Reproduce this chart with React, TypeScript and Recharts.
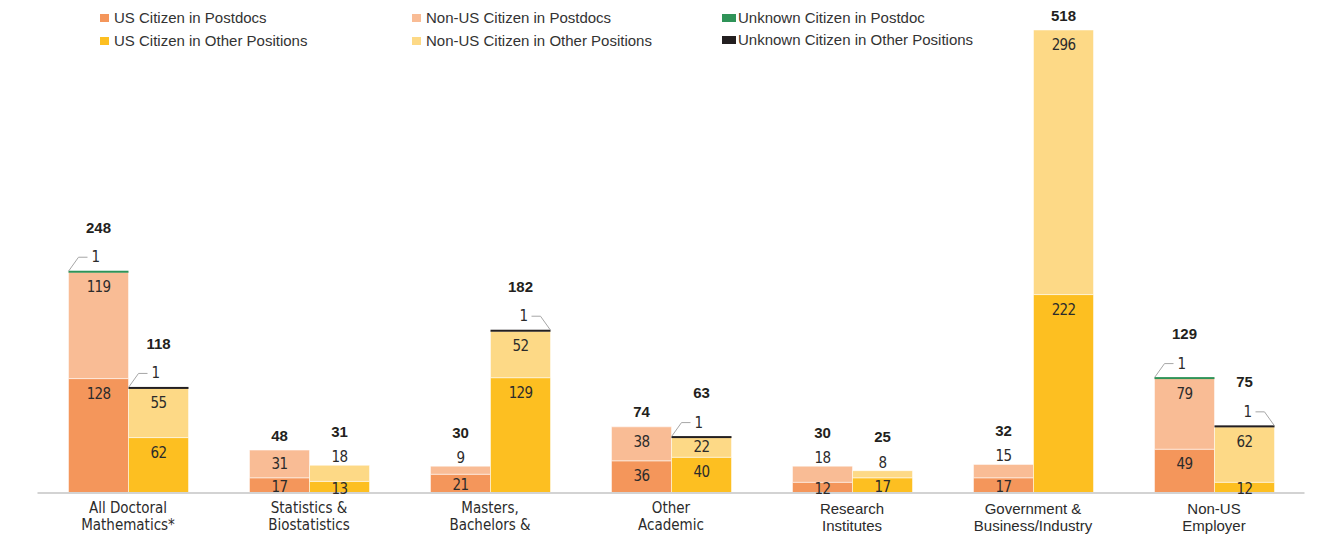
import React from 'react';
import { BarChart, Bar, XAxis, YAxis, LabelList } from 'recharts';

// ---------- data ----------
const categories = [
  'All Doctoral\nMathematics*',
  'Statistics &\nBiostatistics',
  'Masters,\nBachelors &',
  'Other\nAcademic',
  'Research\nInstitutes',
  'Government &\nBusiness/Industry',
  'Non-US\nEmployer',
];
const usPostdoc = [128, 17, 21, 36, 12, 17, 49];
const nonUsPostdoc = [119, 31, 9, 38, 18, 15, 79];
const unknownPostdoc = [1, 0, 0, 0, 0, 0, 1];
const usOther = [62, 13, 129, 40, 17, 222, 12];
const nonUsOther = [55, 18, 52, 22, 8, 296, 62];
const unknownOther = [1, 0, 1, 1, 0, 0, 1];

const seriesNames = {
  usPost: 'US Citizen in Postdocs',
  nonUsPost: 'Non-US Citizen in Postdocs',
  unkPost: 'Unknown Citizen in Postdoc',
  usOther: 'US Citizen in Other Positions',
  nonUsOther: 'Non-US Citizen in Other Positions',
  unkOther: 'Unknown Citizen in Other Positions',
};

// ---------- style config ----------
const COLORS = {
  usPost: '#f4965b',
  nonUsPost: '#f9bc95',
  unkPost: '#2f9358',
  usOther: '#fdbf21',
  nonUsOther: '#fdd986',
  unkOther: '#231f20',
};
const tickCondensed = [true, true, true, true, false, false, false];
const unknownSidePost = ['left', 'left', 'left', 'left', 'left', 'left', 'left'];
const unknownSideOther = ['left', 'left', 'right', 'left', 'left', 'left', 'right'];

const REG = '"Liberation Sans", Arial, Helvetica, sans-serif';
const NARROW = '"Liberation Sans Narrow", "Arial Narrow", "DejaVu Sans Condensed", sans-serif';

const data = categories.map((name, i) => ({
  name,
  usPost: usPostdoc[i],
  nonUsPost: nonUsPostdoc[i],
  unkPost: unknownPostdoc[i],
  usOther: usOther[i],
  nonUsOther: nonUsOther[i],
  unkOther: unknownOther[i],
}));

const segStyle: React.CSSProperties = { fontFamily: NARROW, fontSize: 15, letterSpacing: -0.7, fill: '#2b2b2b' };
const totalStyle: React.CSSProperties = { fontFamily: REG, fontSize: 15, fontWeight: 700, fill: '#231f20' };

const getBox = (props: any) => {
  const vb = props.viewBox && typeof props.viewBox.x === 'number' ? props.viewBox : props;
  return { x: Number(vb.x), y: Number(vb.y), width: Number(vb.width), height: Number(vb.height) };
};

const usLabel = (props: any) => {
  const { x, y, width, height } = getBox(props);
  const v = props.value;
  if (!v) return <g />;
  const cy = y + Math.min(15, height / 2 + 1.5);
  return (
    <text x={x + width / 2} y={cy} textAnchor="middle" dominantBaseline="central" style={segStyle}>
      {v}
    </text>
  );
};

const makeTopLabel = (usArr: number[], nonUsArr: number[], unkArr: number[], sides: string[]) => (props: any) => {
  const { x, y, width, height } = getBox(props);
  const i = props.index;
  const v = nonUsArr[i];
  const unk = unkArr[i];
  const total = usArr[i] + nonUsArr[i] + unk;
  const cx = x + width / 2;
  const small = height < 18;
  const valueY = small ? y - 8 : y + Math.min(15, height / 2);
  const stackTop = y - (unk > 0 ? 1 : 0);
  let totalY: number;
  if (unk > 0) totalY = stackTop - 44;
  else if (small) totalY = y - 34;
  else totalY = y - 15;

  let unkEl: React.ReactNode = null;
  if (unk > 0) {
    const ey = stackTop - 14;
    if (sides[i] === 'right') {
      const rx = x + width;
      unkEl = (
        <g>
          <polyline points={`${rx},${stackTop} ${rx - 10},${ey} ${rx - 19},${ey}`} fill="none" stroke="#a6a6a6" strokeWidth={1} />
          <text x={rx - 27} y={ey} textAnchor="middle" dominantBaseline="central" style={segStyle}>{unk}</text>
        </g>
      );
    } else {
      unkEl = (
        <g>
          <polyline points={`${x},${stackTop} ${x + 10},${ey} ${x + 19},${ey}`} fill="none" stroke="#a6a6a6" strokeWidth={1} />
          <text x={x + 27} y={ey} textAnchor="middle" dominantBaseline="central" style={segStyle}>{unk}</text>
        </g>
      );
    }
  }
  return (
    <g>
      {v ? (
        <text x={cx} y={valueY} textAnchor="middle" dominantBaseline="central" style={segStyle}>{v}</text>
      ) : null}
      {unkEl}
      <text x={cx} y={totalY} textAnchor="middle" dominantBaseline="central" style={totalStyle}>{total}</text>
    </g>
  );
};

const unknownShape = (props: any) => {
  const { x, y, width, height, fill } = props;
  if (!height || height <= 0) return <g />;
  return <rect x={x} y={y - 0.6} width={width} height={2} fill={fill} />;
};

const Tick = (props: any) => {
  const { x, y, payload } = props;
  const idx = categories.indexOf(payload.value);
  const condensed = tickCondensed[idx];
  const lines = String(payload.value).split('\n');
  return (
    <g>
      {lines.map((l, k) => (
        <text
          key={k}
          x={x}
          y={y + 15 + k * 17}
          textAnchor="middle"
          dominantBaseline="central"
          style={{ fontFamily: condensed ? NARROW : REG, fontSize: 15, fill: '#2b2b2b' }}
        >
          {l}
        </text>
      ))}
    </g>
  );
};

const legendCols = [
  { x: 100, sw: 9, items: ['usPost', 'usOther'] },
  { x: 412, sw: 9, items: ['nonUsPost', 'nonUsOther'] },
  { x: 722, sw: 14, items: ['unkPost', 'unkOther'] },
];

const LegendBlock = () => (
  <div style={{ position: 'absolute', left: 0, top: 0, width: 1322, height: 55, pointerEvents: 'none' }}>
    {legendCols.map((col, ci) =>
      col.items.map((key, ri) => (
        <div
          key={key}
          style={{
            position: 'absolute',
            left: col.x,
            top: (ri === 0 ? 18 : ci === 2 ? 40 : 41) - 9,
            height: 18,
            display: 'flex',
            alignItems: 'center',
            whiteSpace: 'nowrap',
          }}
        >
          <span style={{ display: 'inline-block', width: col.sw, height: 8, background: (COLORS as any)[key], marginRight: ci === 2 ? 2 : 5 }} />
          <span style={{ fontFamily: REG, fontSize: 15, color: '#333', lineHeight: '18px' }}>{(seriesNames as any)[key]}</span>
        </div>
      ))
    )}
  </div>
);

export default function App() {
  return (
    <div style={{ position: 'absolute', left: 0, top: 0, width: 1322, height: 536, background: '#fff' }}>
      <BarChart
        width={1322}
        height={536}
        data={data}
        margin={{ top: 30, right: 17.5, left: 37.5, bottom: 0 }}
        barGap={0}
        barSize={60}
      >
        <XAxis
          dataKey="name"
          interval={0}
          tickLine={false}
          tickSize={0}
          tickMargin={0}
          height={43}
          axisLine={{ stroke: '#d3d3d3', strokeWidth: 2 }}
          tick={<Tick />}
        />
        <YAxis hide domain={[0, 518]} />
        <Bar dataKey="usPost" name={seriesNames.usPost} stackId="post" fill={COLORS.usPost} stroke="#fff" strokeWidth={0.5} isAnimationActive={false}>
          <LabelList dataKey="usPost" content={usLabel} />
        </Bar>
        <Bar dataKey="nonUsPost" name={seriesNames.nonUsPost} stackId="post" fill={COLORS.nonUsPost} stroke="#fff" strokeWidth={0.5} isAnimationActive={false}>
          <LabelList dataKey="nonUsPost" content={makeTopLabel(usPostdoc, nonUsPostdoc, unknownPostdoc, unknownSidePost)} />
        </Bar>
        <Bar dataKey="unkPost" name={seriesNames.unkPost} stackId="post" fill={COLORS.unkPost} shape={unknownShape} isAnimationActive={false} />
        <Bar dataKey="usOther" name={seriesNames.usOther} stackId="other" fill={COLORS.usOther} stroke="#fff" strokeWidth={0.5} isAnimationActive={false}>
          <LabelList dataKey="usOther" content={usLabel} />
        </Bar>
        <Bar dataKey="nonUsOther" name={seriesNames.nonUsOther} stackId="other" fill={COLORS.nonUsOther} stroke="#fff" strokeWidth={0.5} isAnimationActive={false}>
          <LabelList dataKey="nonUsOther" content={makeTopLabel(usOther, nonUsOther, unknownOther, unknownSideOther)} />
        </Bar>
        <Bar dataKey="unkOther" name={seriesNames.unkOther} stackId="other" fill={COLORS.unkOther} shape={unknownShape} isAnimationActive={false} />
      </BarChart>
      <LegendBlock />
    </div>
  );
}
